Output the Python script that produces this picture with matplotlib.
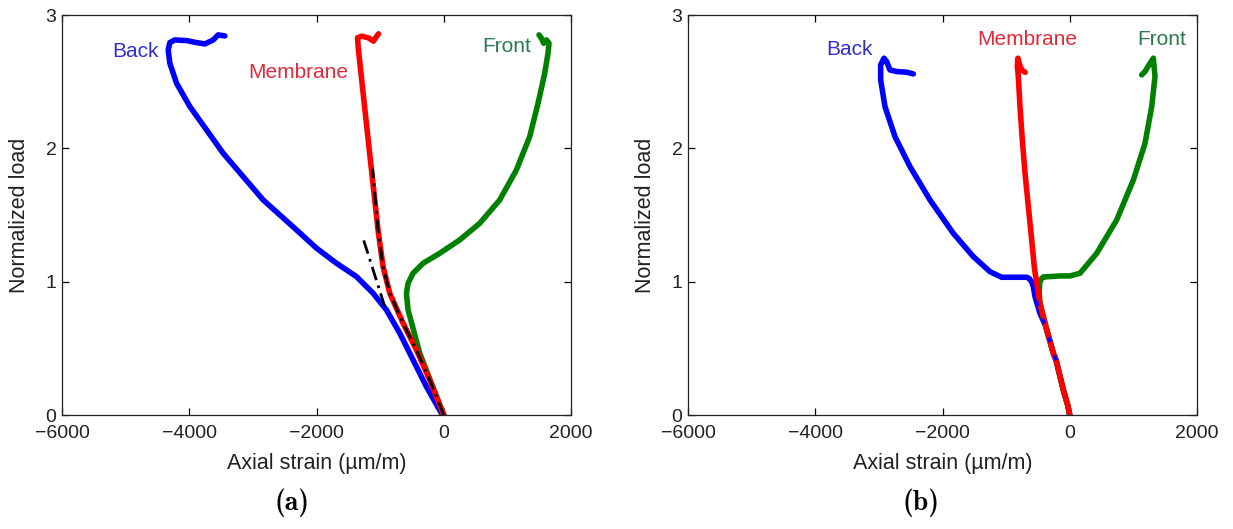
import matplotlib
matplotlib.use("Agg")
import matplotlib.pyplot as plt

# ---------------- data ----------------
# Panel (a)
a_back_x = [0, -36, -272, -482, -691, -901, -1110, -1372, -1686, -2000, -2314, -2839,
            -3153, -3467, -3728, -3990, -4199, -4305, -4331, -4305, -4226, -4042, -3885,
            -3755, -3624, -3546, -3440]
a_back_y = [0, 0.013, 0.212, 0.413, 0.613, 0.788, 0.913, 1.038, 1.138, 1.251, 1.388,
            1.613, 1.788, 1.963, 2.138, 2.313, 2.488, 2.638, 2.738, 2.793, 2.813, 2.808,
            2.793, 2.783, 2.813, 2.851, 2.843]

a_memb_x = [0, -11, -220, -429, -639, -848, -954, -1033, -1119, -1201, -1287, -1344, -1355,
            -1291, -1185, -1105, -1063, -1026]
a_memb_y = [0, 0.013, 0.263, 0.488, 0.688, 0.913, 1.113, 1.388, 1.763, 2.123, 2.501, 2.753,
            2.829, 2.841, 2.829, 2.804, 2.834, 2.859]

a_front_x = [0, -194, -377, -561, -586, -561, -482, -325, -63, 251, 566, 880, 1142, 1351,
             1482, 1587, 1639, 1654, 1613, 1571, 1535, 1497]
a_front_y = [0, 0.238, 0.463, 0.788, 0.913, 0.988, 1.063, 1.138, 1.213, 1.313, 1.438, 1.613,
             1.838, 2.088, 2.338, 2.563, 2.713, 2.788, 2.813, 2.788, 2.826, 2.851]

# dash-dot reference lines in panel (a)
a_fit1_x = [0, -220, -429, -639, -848, -954, -1033, -1119]
a_fit1_y = [0, 0.263, 0.488, 0.688, 0.913, 1.113, 1.388, 1.846]
a_fit2_x = [-927, -1268]
a_fit2_y = [0.813, 1.325]

# Panel (b)
b_back_x = [0, -30, -101, -215, -258, -374, -468, -546, -573, -598, -640, -677, -1070,
            -1254, -1516, -1831, -2197, -2511, -2747, -2904, -2972, -2972, -2920, -2878,
            -2826, -2720, -2563, -2459]
b_back_y = [0, 0.07, 0.188, 0.411, 0.463, 0.662, 0.763, 0.888, 0.963, 0.998, 1.025, 1.033,
            1.033, 1.075, 1.188, 1.363, 1.613, 1.863, 2.088, 2.313, 2.513, 2.626, 2.676,
            2.651, 2.588, 2.576, 2.571, 2.558]

b_memb_x = [0, -30, -101, -215, -258, -362, -468, -510, -555, -598, -650, -703, -745, -782,
            -810, -824, -815, -790, -755, -700]
b_memb_y = [0, 0.07, 0.188, 0.411, 0.463, 0.638, 0.838, 0.963, 1.10, 1.313, 1.56, 1.813,
            2.06, 2.313, 2.55, 2.613, 2.676, 2.63, 2.588, 2.57]

b_front_x = [0, -30, -101, -215, -258, -362, -468, -480, -472, -450, -416, -153, 4, 161,
             424, 738, 1000, 1183, 1288, 1340, 1314, 1262, 1183, 1131]
b_front_y = [0, 0.07, 0.188, 0.411, 0.463, 0.638, 0.838, 0.92, 0.99, 1.02, 1.035, 1.043,
             1.043, 1.063, 1.213, 1.463, 1.763, 2.038, 2.313, 2.538, 2.676, 2.638, 2.576,
             2.551]

x_ticks = [-6000, -4000, -2000, 0, 2000]
y_ticks = [0, 1, 2, 3]
xlabel = "Axial strain (\u00b5m/m)"
ylabel = "Normalized load"

BLUE = "#0000ff"
RED = "#ff0000"
GREEN = "#008000"
BLUE_T = "#2f2fd2"
RED_T = "#e42a3a"
GREEN_T = "#2a7a4e"

# ---------------- figure ----------------
plt.rcParams['font.family'] = ['Liberation Sans', 'DejaVu Sans']
W, H = 1233, 529
fig = plt.figure(figsize=(W / 100, H / 100), dpi=100)

ax1 = fig.add_axes([62 / W, 1 - 415 / H, 509 / W, 400 / H])
ax2 = fig.add_axes([688 / W, 1 - 415 / H, 509 / W, 400 / H])

LW = 4.0
kw = dict(lw=LW, solid_capstyle='round', solid_joinstyle='round')

ax1.plot(a_back_x, a_back_y, color=BLUE, **kw)
ax1.plot(a_front_x, a_front_y, color=GREEN, **kw)
ax1.plot(a_memb_x, a_memb_y, color=RED, **kw)
ax1.plot(a_fit1_x, a_fit1_y, color='black', lw=2.0, ls=(0, (5, 2, 1, 2)))
ax1.plot(a_fit2_x, a_fit2_y, color='black', lw=2.0, ls=(0, (5, 2, 1, 2)))

ax2.plot(b_back_x, b_back_y, color=BLUE, **kw)
ax2.plot(b_front_x, b_front_y, color=GREEN, **kw)
ax2.plot(b_memb_x, b_memb_y, color=RED, **kw)
# blue showing through the red in the shared lower part
ax2.plot(b_back_x[3:8], b_back_y[3:8], color=BLUE, lw=2.5, ls=(0, (1.5, 4)))

TFS = 15
ax1.text(-4847, 2.728, "Back", color=BLUE_T, fontsize=TFS, ha='center', va='center')
ax1.text(-2280, 2.566, "Membrane", color=RED_T, fontsize=TFS, ha='center', va='center')
ax1.text(985, 2.763, "Front", color=GREEN_T, fontsize=TFS, ha='center', va='center')

ax2.text(-3454, 2.743, "Back", color=BLUE_T, fontsize=TFS, ha='center', va='center')
ax2.text(-670, 2.816, "Membrane", color=RED_T, fontsize=TFS, ha='center', va='center')
ax2.text(1445, 2.813, "Front", color=GREEN_T, fontsize=TFS, ha='center', va='center')

for ax in (ax1, ax2):
    ax.set_xlim(-6000, 2000)
    ax.set_ylim(0, 3)
    ax.set_xticks(x_ticks)
    ax.set_yticks(y_ticks)
    ax.tick_params(direction='in', length=5, width=0.9, top=True, right=True,
                   labelsize=14, labelcolor='#222222')
    ax.tick_params(axis='x', pad=7)
    ax.tick_params(axis='y', pad=4)
    for lab in ax.get_yticklabels():
        lab.set_verticalalignment('center_baseline')
    for s in ax.spines.values():
        s.set_linewidth(0.9)
        s.set_color('#222222')
    ax.set_xlabel(xlabel, fontsize=15.5, va='center', color='#222222')
    ax.xaxis.set_label_coords(0.5, -0.12)
    ax.set_ylabel(ylabel, fontsize=15.5, va='center', color='#222222')
    ax.yaxis.set_label_coords(-0.084, 0.5)

fig.text(292 / W, 1 - 503 / H, "(a)", fontsize=20, family=['cmb10', 'DejaVu Serif'],
         ha='center', va='center')
fig.text(921 / W, 1 - 503 / H, "(b)", fontsize=20, family=['cmb10', 'DejaVu Serif'],
         ha='center', va='center')

fig.savefig("out.png", dpi=100)
